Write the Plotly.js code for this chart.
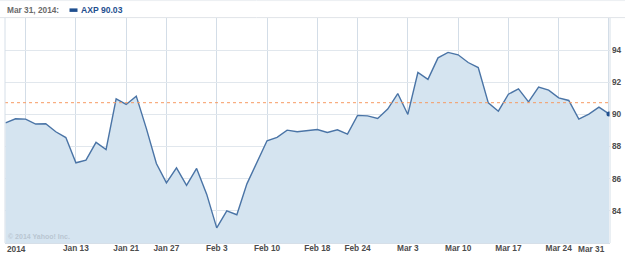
<!DOCTYPE html>
<html><head><meta charset="utf-8">
<script src="https://cdn.plot.ly/plotly-3.0.1.min.js"></script>
<style>html,body{margin:0;padding:0;background:#fff;}#chart{width:625px;height:254px;}</style>
</head><body><div id="chart"></div>
<script>
// trading days Jan 2 – Mar 31, 2014
const dates = [
 '2014-01-02','2014-01-03','2014-01-06','2014-01-07','2014-01-08','2014-01-09','2014-01-10',
 '2014-01-13','2014-01-14','2014-01-15','2014-01-16','2014-01-17',
 '2014-01-21','2014-01-22','2014-01-23','2014-01-24',
 '2014-01-27','2014-01-28','2014-01-29','2014-01-30','2014-01-31',
 '2014-02-03','2014-02-04','2014-02-05','2014-02-06','2014-02-07',
 '2014-02-10','2014-02-11','2014-02-12','2014-02-13','2014-02-14',
 '2014-02-18','2014-02-19','2014-02-20','2014-02-21',
 '2014-02-24','2014-02-25','2014-02-26','2014-02-27','2014-02-28',
 '2014-03-03','2014-03-04','2014-03-05','2014-03-06','2014-03-07',
 '2014-03-10','2014-03-11','2014-03-12','2014-03-13','2014-03-14',
 '2014-03-17','2014-03-18','2014-03-19','2014-03-20','2014-03-21',
 '2014-03-24','2014-03-25','2014-03-26','2014-03-27','2014-03-28',
 '2014-03-31'];
const closes = [
 89.48, 89.73, 89.71, 89.40, 89.42, 88.92, 88.56, 86.99, 87.16, 88.26,
 87.82, 90.97, 90.62, 91.14, 89.13, 86.95, 85.74, 86.68, 85.58, 86.64,
 85.04, 82.94, 84.00, 83.76, 85.68, 87.05, 88.36, 88.57, 89.02, 88.92,
 89.00, 89.06, 88.88, 89.04, 88.77, 89.94, 89.91, 89.75, 90.33, 91.30,
 90.00, 92.61, 92.18, 93.52, 93.86, 93.71, 93.23, 92.92, 90.72, 90.20,
 91.26, 91.59, 90.78, 91.70, 91.51, 91.03, 90.87, 89.71, 90.02, 90.45,
 90.03];
const prevClose = 90.73;
const tickDates = ['2014-01-06','2014-01-13','2014-01-21','2014-01-27','2014-02-03','2014-02-10','2014-02-18','2014-02-24','2014-03-03','2014-03-10','2014-03-17','2014-03-24','2014-03-31'];
const tickLabels = ['','Jan 13','Jan 21','Jan 27','Feb 3','Feb 10','Feb 18','Feb 24','Mar 3','Mar 10','Mar 17','Mar 24',''];
const yTicks = [84, 86, 88, 90, 92, 94];
const symbol = 'AXP';
const headerDate = 'Mar 31, 2014:';

const lastIdx = closes.length - 1;
const font = {family: 'Liberation Sans, Arial, sans-serif', size: 8.3, color: '#4d4d4d', weight: 700};

const traces = [
 {x: dates, y: closes, type: 'scatter', mode: 'lines', fill: 'tozeroy',
  fillcolor: '#d5e4f0', line: {color: '#4a74a6', width: 1.4}, hoverinfo: 'x+y'},
 {x: [dates[lastIdx]], y: [closes[lastIdx]], type: 'scatter', mode: 'markers',
  marker: {color: '#1f4f8f', size: 5}, hoverinfo: 'skip'}
];

const W = 605, H = 225;
const px = v => (v - 5) / W;
const py = v => (242.9 - v) / H;

const layout = {
 width: 625, height: 254, showlegend: false,
 margin: {l: 5, r: 15, t: 18, b: 11, pad: 0},
 paper_bgcolor: '#fff', plot_bgcolor: '#fff',
 font: font,
 xaxis: {type: 'category', range: [-0.05, 60.1], tickvals: tickDates, ticktext: tickLabels,
  showgrid: true, gridcolor: '#d3dde7', gridwidth: 1, zeroline: false,
  showline: true, linecolor: '#d6dfe8', mirror: false, ticks: '', ticklabelstandoff: -3,
  tickfont: font, fixedrange: true},
 yaxis: {range: [82, 96], side: 'right', tickvals: yTicks, ticktext: yTicks.map(String),
  showgrid: true, gridcolor: '#e1e7ed', gridwidth: 1, zeroline: false,
  showline: false, ticks: '', ticklabelstandoff: 1, tickfont: font, fixedrange: true},
 shapes: [
  {type: 'line', xref: 'paper', yref: 'y', x0: 0, x1: 1, y0: prevClose, y1: prevClose,
   line: {color: '#f79a63', width: 1, dash: 'dot'}},
  {type: 'line', xref: 'paper', yref: 'paper', x0: px(0), x1: px(625), y0: py(17.5), y1: py(17.5),
   line: {color: '#e0e4e8', width: 1}},
  {type: 'line', xref: 'paper', yref: 'paper', x0: px(0), x1: px(625), y0: py(0.5), y1: py(0.5),
   line: {color: '#eceff2', width: 1}},
  {type: 'line', xref: 'paper', yref: 'paper', x0: 0, x1: 0, y0: 0, y1: 1,
   line: {color: '#d6dfe8', width: 1}},
  {type: 'line', xref: 'paper', yref: 'paper', x0: 1, x1: 1, y0: 0, y1: 1,
   line: {color: '#d6dfe8', width: 1}},
  {type: 'rect', xref: 'paper', yref: 'paper', x0: px(69.5), x1: px(77.5), y0: py(11.8), y1: py(8.3),
   fillcolor: '#1f4f8f', line: {width: 0}}
 ],
 annotations: [
  {xref: 'paper', yref: 'paper', x: px(5), y: py(10), xanchor: 'left', yanchor: 'middle',
   text: headerDate, showarrow: false, font: {family: font.family, size: 8.3, color: '#6b6b6b', weight: 700}},
  {xref: 'paper', yref: 'paper', x: px(79), y: py(10), xanchor: 'left', yanchor: 'middle',
   text: symbol + ' ' + closes[lastIdx].toFixed(2), showarrow: false,
   font: {family: font.family, size: 8.6, color: '#1f4f8f', weight: 700}},
  {xref: 'x', yref: 'paper', x: dates[0], y: py(249), xanchor: 'left', yanchor: 'middle', xshift: -1,
   text: '2014', showarrow: false, font: font},
  {xref: 'x', yref: 'paper', x: dates[lastIdx], y: py(249), xanchor: 'right', yanchor: 'middle', xshift: -2,
   text: 'Mar 31', showarrow: false, font: font},
  {xref: 'paper', yref: 'paper', x: px(6), y: py(236.5), xanchor: 'left', yanchor: 'middle',
   text: '© 2014 Yahoo! Inc.', showarrow: false,
   font: {family: 'Liberation Sans, Arial, sans-serif', size: 7, color: '#b9c6d2'}}
 ]
};
Plotly.newPlot('chart', traces, layout, {staticPlot: true, displayModeBar: false});
</script></body></html>
